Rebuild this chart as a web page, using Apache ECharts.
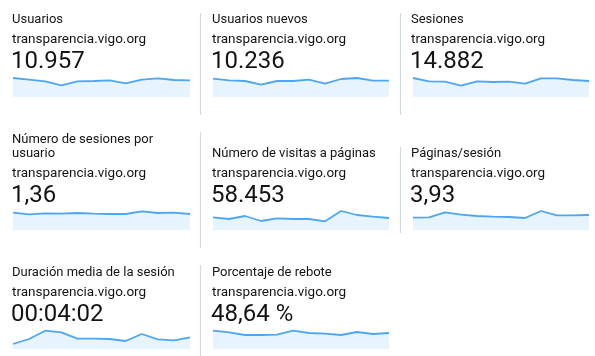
<!DOCTYPE html>
<html>
<head>
<meta charset="utf-8">
<script src="https://cdn.jsdelivr.net/npm/echarts@6/dist/echarts.min.js"></script>
<style>
  html, body { margin: 0; padding: 0; background: #fff; }
  #chart { width: 595px; height: 356px; }
</style>
</head>
<body>
<div id="chart"></div>
<script>
// Monthly buckets behind every sparkline
const months = ['ene', 'feb', 'mar', 'abr', 'may', 'jun', 'jul', 'ago', 'sep', 'oct', 'nov', 'dic'];
const domain = 'transparencia.vigo.org';

// Card titles (pre-wrapped lines) and headline figures
const titles = [
  ['Usuarios'],
  ['Usuarios nuevos'],
  ['Sesiones'],
  ['Número de sesiones por', 'usuario'],
  ['Número de visitas a páginas'],
  ['Páginas/sesión'],
  ['Duración media de la sesión'],
  ['Porcentaje de rebote']
];
const headlines = ['10.957', '10.236', '14.882', '1,36', '58.453', '3,93', '00:04:02', '48,64 %'];

// Monthly series per metric
const usuarios        = [950, 867, 783, 583, 783, 800, 833, 683, 867, 933, 850, 833];
const usuariosNuevos  = [917, 833, 800, 617, 800, 800, 867, 667, 900, 950, 817, 817];
const sesiones        = [1330, 1097, 1073, 793, 1097, 1050, 1073, 933, 1307, 1307, 1190, 1120];
const sesionesUsuario = [1.39, 1.25, 1.33, 1.31, 1.36, 1.31, 1.28, 1.28, 1.49, 1.36, 1.39, 1.28];
const visitasPaginas  = [5067, 4400, 5600, 3600, 4667, 4400, 4400, 3467, 7600, 6000, 5333, 4800];
const paginasSesion   = [3.45, 3.55, 4.95, 4.29, 3.92, 3.73, 3.64, 3.36, 5.32, 4.11, 4.11, 4.20];
const duracionSeg     = [110, 220, 403, 367, 227, 227, 220, 176, 330, 213, 191, 257];
const rebote          = [55, 50, 42, 42, 43, 55, 48, 46, 42, 51, 45, 48];

const seriesData = [usuarios, usuariosNuevos, sesiones, sesionesUsuario,
                    visitasPaginas, paginasSesion, duracionSeg, rebote];
// Upper bound of each sparkline's value axis (lower bound is 0)
const axisMax = [1500, 1500, 2100, 2.4, 12000, 8.4, 660, 90];

// Layout
const textLeft = [12, 212, 411];
const sparkLeft = [13, 213, 413];
const sparkWidth = [177, 176, 176];
const rowShift = [0, 134, 253];        // vertical offset of each row's baselines
const sparkBottom = [97, 230, 349];
const sparkHeight = 30;

const TEXT = '#141414';
const FONT = 'Roboto, "Noto Sans", sans-serif';
const LINE = '#4ea6f1';
const FILL = '#e8f4fd';
const SEP = '#d3dadd';

// y for a 'middle'-aligned text whose alphabetic baseline sits at `baseline`
function mid(baseline, size) { return baseline - 0.29 * size; }

const grids = [], xAxes = [], yAxes = [], series = [], graphics = [];

titles.forEach(function (lines, i) {
  const col = i % 3, row = Math.floor(i / 3);
  const dy = rowShift[row];
  // title: last line sits on the common title baseline
  lines.forEach(function (ln, k) {
    const base = 23.3 + dy - (lines.length - 1 - k) * 14;
    graphics.push({ type: 'text', x: textLeft[col], y: mid(base, 13),
      style: { text: ln, fill: TEXT, font: '13px ' + FONT, verticalAlign: 'middle' } });
  });
  graphics.push({ type: 'text', x: textLeft[col], y: mid(43.3 + dy, 13.5),
    style: { text: domain, fill: TEXT, font: '13.5px ' + FONT, verticalAlign: 'middle' } });
  graphics.push({ type: 'text', x: textLeft[col] - 1, y: mid(69.3 + dy, 24),
    style: { text: headlines[i], fill: TEXT, font: '24px ' + FONT, verticalAlign: 'middle' } });

  grids.push({ left: sparkLeft[col], width: sparkWidth[col],
    top: sparkBottom[row] - sparkHeight, height: sparkHeight });
  xAxes.push({ type: 'category', gridIndex: i, data: months, boundaryGap: false, show: false });
  yAxes.push({ type: 'value', gridIndex: i, min: 0, max: axisMax[i], show: false });
  series.push({ type: 'line', xAxisIndex: i, yAxisIndex: i, data: seriesData[i],
    symbol: 'none', silent: true,
    lineStyle: { color: LINE, width: 1.8 },
    areaStyle: { color: FILL, opacity: 1 } });
});

// Column separators
const seps = [
  [200, 13, 115], [400, 13, 115],
  [200, 132, 248], [400, 147, 233],
  [200, 265, 356]
];
seps.forEach(function (s) {
  graphics.push({ type: 'line', shape: { x1: s[0] + 0.5, y1: s[1], x2: s[0] + 0.5, y2: s[2] },
    style: { stroke: SEP, lineWidth: 1.2 }, silent: true });
});

const chart = echarts.init(document.getElementById('chart'), null, { renderer: 'canvas' });
chart.setOption({
  animation: false,
  grid: grids, xAxis: xAxes, yAxis: yAxes, series: series,
  graphic: { elements: graphics }
});
</script>
</body>
</html>
